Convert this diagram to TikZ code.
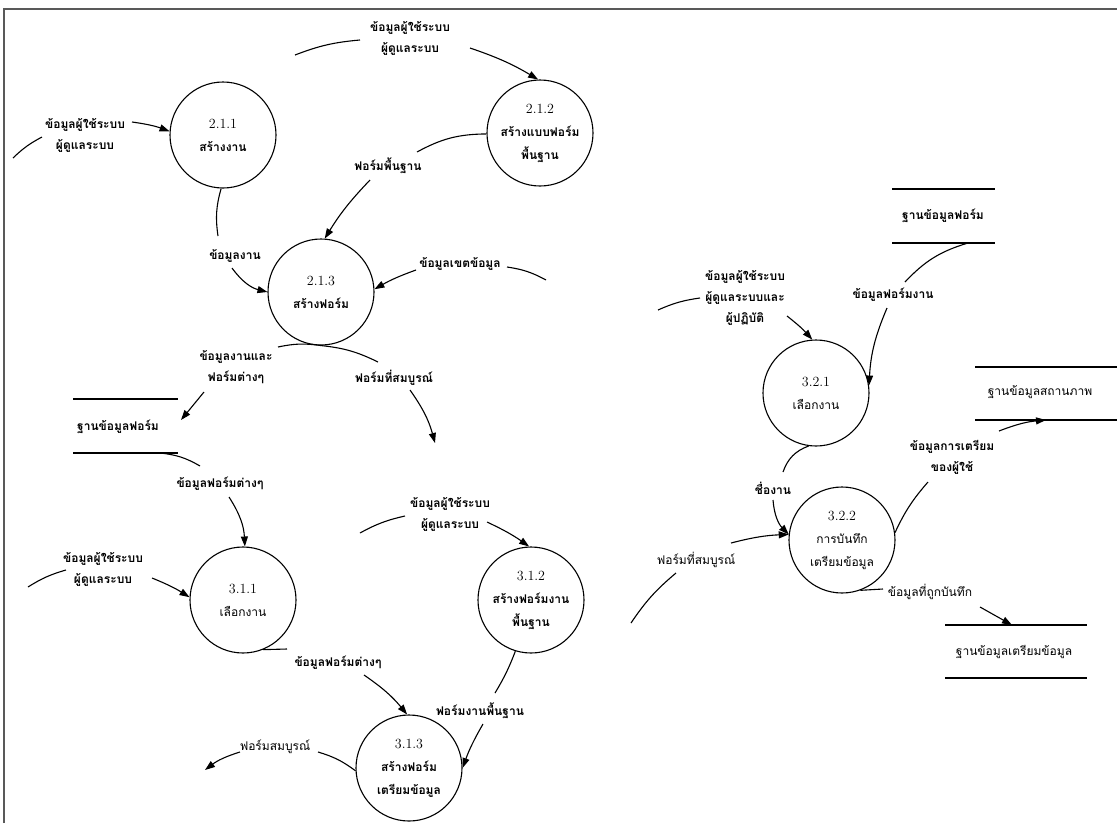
\documentclass[tikz,border=0pt]{standalone}
\usepackage{fontspec}
\newfontfamily\thai[Script=Thai]{Loma}
\usetikzlibrary{arrows.meta}
\tikzset{
 proc/.style={circle,draw,line width=1.1pt,minimum size=106pt,inner sep=0pt,align=center,font=\thai\bfseries\fontsize{12}{23}\selectfont},
 procl/.style={proc,font=\thai\fontsize{12}{23}\selectfont},
 lbl/.style={align=center,inner sep=1pt,font=\thai\bfseries\fontsize{12}{21}\selectfont},
 lbll/.style={lbl,font=\thai\fontsize{12}{21}\selectfont},
 flow/.style={line width=1.1pt},
 arr/.style={flow,-{Triangle[length=10pt,width=7pt]}},
 store/.style={line width=1.1pt},
 framel/.style={line width=2.5pt,black!65}
}
\newcommand\nm[1]{{\rmfamily\mdseries\fontsize{14}{23}\selectfont #1}}
\begin{document}
\begin{tikzpicture}[x=1pt,y=1pt]
\useasboundingbox (0,0) rectangle (1117,-823);
\draw[framel] (4,-823) -- (4,-9) -- (1117,-9);

% processes
\node[proc] (c211) at (223,-135) {\nm{2.1.1}\\สร้างงาน};
\node[proc] (c212) at (540,-133) {\nm{2.1.2}\\สร้างแบบฟอร์ม\\พื้นฐาน};
\node[proc] (c213) at (321,-292) {\nm{2.1.3}\\สร้างฟอร์ม};
\node[procl] (c311) at (243,-600) {\nm{3.1.1}\\เลือกงาน};
\node[proc] (c312) at (531,-600) {\nm{3.1.2}\\สร้างฟอร์มงาน\\พื้นฐาน};
\node[proc] (c313) at (409,-768) {\nm{3.1.3}\\สร้างฟอร์ม\\เตรียมข้อมูล};
\node[procl] (c321) at (816,-393) {\nm{3.2.1}\\เลือกงาน};
\node[procl] (c322) at (842,-540) {\nm{3.2.2}\\การบันทึก\\เตรียมข้อมูล};

% data stores
\draw[store] (73,-399) -- (178,-399) (73,-453) -- (178,-453);
\node[lbl] (ds1) at (118,-427) {ฐานข้อมูลฟอร์ม};
\draw[store] (892,-189) -- (995,-189) (892,-243) -- (995,-243);
\node[lbl] (ds2) at (943,-216) {ฐานข้อมูลฟอร์ม};
\draw[store] (975,-367) -- (1117,-367) (975,-420) -- (1117,-420);
\node[lbll] (ds3) at (1040,-392) {ฐานข้อมูลสถานภาพ};
\draw[store] (945,-625) -- (1087,-625) (945,-678) -- (1087,-678);
\node[lbll] (ds4) at (1014,-652) {ฐานข้อมูลเตรียมข้อมูล};

% labels
\node[lbl] (l1) at (85,-135) {ข้อมูลผู้ใช้ระบบ\\ผู้ดูแลระบบ};
\node[lbl] (l2) at (410,-38) {ข้อมูลผู้ใช้ระบบ\\ผู้ดูแลระบบ};
\node[lbl] (l3) at (388,-166) {ฟอร์มพื้นฐาน};
\node[lbl] (l4) at (235,-256) {ข้อมูลงาน};
\node[lbl] (l5) at (460,-264) {ข้อมูลเขตข้อมูล};
\node[lbl] (l6) at (236,-367) {ข้อมูลงานและ\\ฟอร์มต่างๆ};
\node[lbl] (l7) at (394,-378) {ฟอร์มที่สมบูรณ์};
\node[lbl] (l9) at (220,-484) {ข้อมูลฟอร์มต่างๆ};
\node[lbl] (l10) at (103,-569) {ข้อมูลผู้ใช้ระบบ\\ผู้ดูแลระบบ};
\node[lbl] (l11) at (450,-514) {ข้อมูลผู้ใช้ระบบ\\ผู้ดูแลระบบ};
\node[lbl] (l12) at (338,-663) {ข้อมูลฟอร์มต่างๆ};
\node[lbl] (l13) at (480,-711) {ฟอร์มงานพื้นฐาน};
\node[lbll] (l14) at (275,-747) {ฟอร์มสมบูรณ์};
\node[lbl] (l16) at (893,-295) {ข้อมูลฟอร์มงาน};
\node[lbl] (l17) at (745,-298) {ข้อมูลผู้ใช้ระบบ\\ผู้ดูแลระบบและ\\ผู้ปฏิบัติ};
\node[lbl] (l18) at (773,-488) {ชื่องาน};
\node[lbll] (l19) at (696,-560) {ฟอร์มที่สมบูรณ์};
\node[lbl] (l20) at (952,-457) {ข้อมูลการเตรียม\\ของผู้ใช้};
\node[lbll] (l22) at (930,-592) {ข้อมูลที่ถูกบันทึก};

% free ends / break points
\coordinate (a1) at (13,-158);   \coordinate (a1l) at (42,-137);  \coordinate (a1r) at (132,-122);
\coordinate (a2) at (295,-55);   \coordinate (a2l) at (360,-40);  \coordinate (a2r) at (470,-48);
\coordinate (a3l) at (417,-152); \coordinate (a3r) at (370,-180);
\coordinate (a4l) at (218,-236); \coordinate (a4r) at (232,-268);
\coordinate (a5) at (546,-280);  \coordinate (a5l) at (507,-267); \coordinate (a5r) at (416,-270);
\coordinate (a6l) at (278,-347); \coordinate (a6r) at (204,-392); \coordinate (a6e) at (181,-420);
\coordinate (a7l) at (378,-362); \coordinate (a7r) at (410,-390); \coordinate (a7e) at (435,-443);
\coordinate (a9s) at (160,-453); \coordinate (a9l) at (200,-466); \coordinate (a9r) at (229,-497);
\coordinate (a10) at (28,-587);  \coordinate (a10l) at (66,-570); \coordinate (a10r) at (152,-578);
\coordinate (a11) at (360,-533); \coordinate (a11l) at (405,-516); \coordinate (a11r) at (487,-522);
\coordinate (a12l) at (287,-649); \coordinate (a12r) at (364,-675);
\coordinate (a13l) at (495,-693); \coordinate (a13r) at (483,-724);
\coordinate (a14l) at (318,-752); \coordinate (a14r) at (240,-752); \coordinate (a14e) at (205,-770);
\coordinate (a16s) at (968,-243); \coordinate (a16l) at (905,-282); \coordinate (a16r) at (887,-308);
\coordinate (a17) at (658,-310); \coordinate (a17l) at (700,-298); \coordinate (a17r) at (787,-316);
\coordinate (a18l) at (783,-472); \coordinate (a18r) at (773,-500);
\coordinate (a19) at (631,-623); \coordinate (a19l) at (676,-573); \coordinate (a19r) at (731,-543);
\coordinate (a20l) at (928,-482); \coordinate (a20r) at (999,-431); \coordinate (a20e) at (1046,-420);
\coordinate (a22l) at (883,-589); \coordinate (a22r) at (980,-607); \coordinate (a22e) at (1012,-625);

% flows
\draw[flow] (a1) to[bend left=8] (a1l);
\draw[arr] (a1r) to[bend left=6] (c211.176);
\draw[flow] (a2) to[bend left=8] (a2l);
\draw[arr] (a2r) to[bend left=6] (c212.92);
\draw[flow] (c212.181) to[bend right=14] (a3l);
\draw[arr] (a3r) to[bend right=6] (c213.86);
\draw[flow] (c211.268) to[bend right=12] (a4l);
\draw[arr] (a4r) to[bend right=20] (c213.180);
\draw[flow] (a5) to[bend right=10] (a5l);
\draw[arr] (a5r) to[bend right=5] (c213.3);
\draw[flow] (c213.270) to[bend right=10] (a6l);
\draw[arr] (a6r) -- (a6e);
\draw[flow] (c213.270) to[bend left=10] (a7l);
\draw[arr] (a7r) to[bend left=10] (a7e);
\draw[flow] (a9s) to[bend left=12] (a9l);
\draw[arr] (a9r) to[bend left=15] (c311.88);
\draw[flow] (a10) to[bend left=8] (a10l);
\draw[arr] (a10r) to[bend left=5] (c311.177);
\draw[flow] (a11) to[bend left=8] (a11l);
\draw[arr] (a11r) to[bend left=5] (c312.92);
\draw[flow] (c311.292) -- (a12l);
\draw[arr] (a12r) to[bend left=8] (c313.92);
\draw[flow] (c312.253) to[bend left=5] (a13l);
\draw[arr] (a13r) to[bend right=5] (c313.0);
\draw[flow] (c313.183) to[bend right=10] (a14l);
\draw[arr] (a14r) to[bend right=10] (a14e);
\draw[flow] (a16s) to[bend right=15] (a16l);
\draw[arr] (a16r) to[bend right=10] (c321.8);
\draw[flow] (a17) to[bend left=8] (a17l);
\draw[arr] (a17r) to[bend left=5] (c321.94);
\draw[flow] (c321.262) to[bend right=25] (a18l);
\draw[arr] (a18r) to[bend right=20] (c322.174);
\draw[flow] (a19) to[bend left=8] (a19l);
\draw[arr] (a19r) to[bend left=6] (c322.174);
\draw[flow] (c322.8) to[bend left=8] (a20l);
\draw[arr] (a20r) to[bend left=8] (a20e);
\draw[flow] (c322.290) -- (a22l);
\draw[arr] (a22r) -- (a22e);
\end{tikzpicture}
\end{document}
